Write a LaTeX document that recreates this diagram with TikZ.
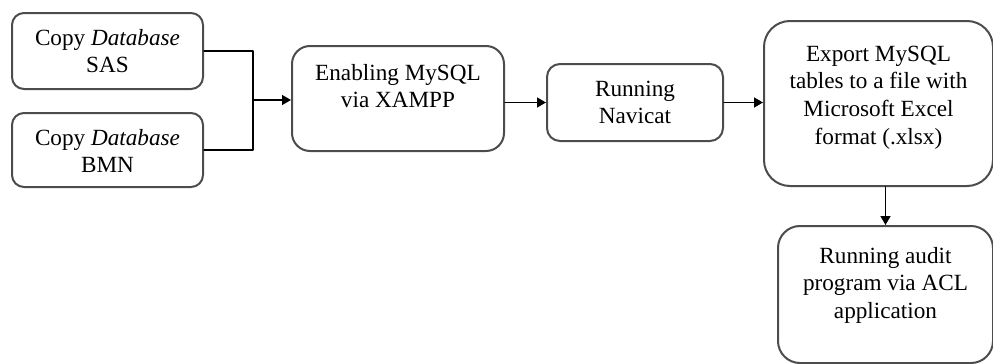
\documentclass[tikz,border=0pt]{standalone}
\usepackage{fontspec}
\setmainfont{Liberation Serif}
\usetikzlibrary{arrows.meta}
\newcommand{\boxtxt}[3]{\parbox[t][#2][t]{#1}{\centering #3}}

\begin{document}
\begin{tikzpicture}[x=0.5pt,y=-0.5pt,font=\fontsize{11.6}{13.8}\selectfont, line join=round, line cap=round,
	box/.style={draw=black!70, line width=1pt, rounded corners=6pt, anchor=north west, inner xsep=0pt, inner ysep=8pt},
	link/.style={line width=0.7pt, -{Triangle[length=4.5pt,width=5pt]}}]
	\useasboundingbox (0,0) rectangle (993,364);
	\node[box] (sas) at (11,12) {\boxtxt{95.5pt}{22pt}{Copy \emph{Database}\\SAS}};
	\node[box] (bmn) at (11,112) {\boxtxt{95.5pt}{21pt}{Copy \emph{Database}\\BMN}};
	\node[box, inner ysep=9pt, rounded corners=9pt] (xampp) at (291,45) {\boxtxt{106pt}{34.5pt}{Enabling MySQL\\via XAMPP}};
	\node[box, inner ysep=8.5pt, rounded corners=6.5pt] (navicat) at (546,63) {\boxtxt{88pt}{21.5pt}{Running\\Navicat}};
	\node[box, inner ysep=12.5pt, rounded corners=13pt] (export) at (763,20) {\boxtxt{114.5pt}{57.5pt}{Export MySQL\\tables to a file with\\Microsoft Excel\\format (.xlsx)}};
	\node[box, inner ysep=10.5pt, rounded corners=11pt] (acl) at (777,225) {\boxtxt{107.5pt}{47.5pt}{Running audit\\program via ACL\\application}};
	\coordinate (join) at (253,100);
	\draw[line width=0.7pt] (sas.east) -| (join) |- (bmn.east);
	\draw[link] (join) -- (join -| xampp.west);
	\draw[link] (xampp.east |- navicat.west) -- (navicat.west);
	\draw[link] (navicat.east) -- (navicat.east -| export.west);
	\draw[link] (export.south -| acl.north) -- (acl.north);
\end{tikzpicture}
\end{document}
